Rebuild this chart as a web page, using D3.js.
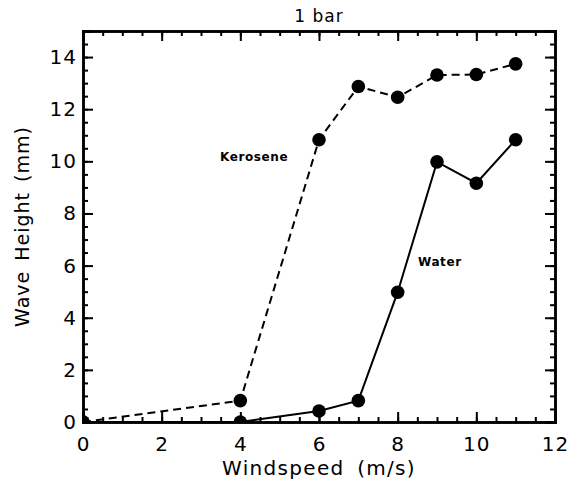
<!DOCTYPE html>
<meta charset="utf-8">
<style>
body { margin: 0; background: #fff; }
text { font-family: "DejaVu Sans", sans-serif; fill: #000; }
.label { font-weight: bold; font-size: 12px; letter-spacing: 0.6px; }
</style>
<body>
<script src="https://d3js.org/d3.v7.min.js"></script>
<script>
var windspeed = [0, 4, 6, 7, 8, 9, 10, 11];
var kerosene = [0, 0.82, 10.83, 12.87, 12.46, 13.31, 13.33, 13.74];
var water = [0, 0, 0.42, 0.82, 4.98, 9.98, 9.16, 10.83];
var xTicks = [0, 2, 4, 6, 8, 10, 12];
var yTicks = [0, 2, 4, 6, 8, 10, 12, 14];

var width = 571, height = 481;
var margin = {left: 83, right: 16, top: 31, bottom: 59};

var svg = d3.select("body").append("svg")
    .attr("width", width)
    .attr("height", height);

var x = d3.scaleLinear().domain([0, 12]).range([margin.left, width - margin.right]);
var y = d3.scaleLinear().domain([0, 15]).range([height - margin.bottom, margin.top]);

svg.append("clipPath").attr("id", "plot")
  .append("rect")
    .attr("x", x(0)).attr("y", y(15))
    .attr("width", x(12) - x(0)).attr("height", y(0) - y(15));

// series
var line = d3.line().x(function(d) { return x(d[0]); }).y(function(d) { return y(d[1]); });
function series(vals, dash) {
    var pts = windspeed.map(function(w, i) { return [w, vals[i]]; });
    var g = svg.append("g").attr("clip-path", "url(#plot)");
    g.append("path")
        .attr("d", line(pts))
        .attr("fill", "none")
        .attr("stroke", "#000")
        .attr("stroke-width", 2)
        .attr("stroke-dasharray", dash);
    g.selectAll("circle")
        .data(pts)
        .enter()
        .append("circle")
        .attr("cx", function(d) { return x(d[0]); })
        .attr("cy", function(d) { return y(d[1]); })
        .attr("r", 6.8)
        .attr("fill", "#000");
}
series(kerosene, "8,5");
series(water, null);

// axes with inward ticks, minor every 0.5
function minor(n) { return d3.range(0, n + 0.01, 0.5); }
var axes = [
    d3.axisBottom(x).tickValues(xTicks).tickSize(-10).tickPadding(15),
    d3.axisTop(x).tickValues(xTicks).tickSize(-10).tickFormat(""),
    d3.axisLeft(y).tickValues(yTicks).tickSize(-10).tickPadding(6),
    d3.axisRight(y).tickValues(yTicks).tickSize(-10).tickFormat("")
];
var pos = ["translate(0," + y(0) + ")", "translate(0," + y(15) + ")",
           "translate(" + x(0) + ",0)", "translate(" + x(12) + ",0)"];
var minors = [
    d3.axisBottom(x).tickValues(minor(12)).tickSize(-5).tickFormat(""),
    d3.axisTop(x).tickValues(minor(12)).tickSize(-5).tickFormat(""),
    d3.axisLeft(y).tickValues(minor(15)).tickSize(-5).tickFormat(""),
    d3.axisRight(y).tickValues(minor(15)).tickSize(-5).tickFormat("")
];
axes.forEach(function(a, i) {
    var gm = svg.append("g").attr("transform", pos[i]).call(minors[i]);
    var g = svg.append("g").attr("transform", pos[i]).call(a);
    [gm, g].forEach(function(s) {
        s.selectAll("line").attr("stroke", "#000").attr("stroke-width", 2);
        s.select(".domain").attr("stroke", "#000").attr("stroke-width", 2.5);
        s.selectAll("text").style("font-size", "20px").style("letter-spacing", "1px").attr("font-family", null);
    });
});

svg.append("text")
    .attr("x", (x(0) + x(12)) / 2).attr("y", 22)
    .attr("text-anchor", "middle")
    .style("font-size", "17px")
    .style("letter-spacing", "1px")
    .text("1 bar");

svg.append("text")
    .attr("x", (x(0) + x(12)) / 2).attr("y", 475)
    .attr("text-anchor", "middle")
    .style("font-size", "20px")
    .style("letter-spacing", "1.3px")
    .style("word-spacing", "5px")
    .text("Windspeed (m/s)");

svg.append("text")
    .attr("transform", "translate(29," + ((y(0) + y(15)) / 2) + ") rotate(-90)")
    .attr("text-anchor", "middle")
    .style("font-size", "19px")
    .style("letter-spacing", "1px")
    .style("word-spacing", "3px")
    .text("Wave Height (mm)");

svg.append("text").attr("class", "label")
    .attr("x", 220).attr("y", 161)
    .text("Kerosene");
svg.append("text").attr("class", "label")
    .attr("x", 418).attr("y", 266)
    .text("Water");
</script>
</body>
